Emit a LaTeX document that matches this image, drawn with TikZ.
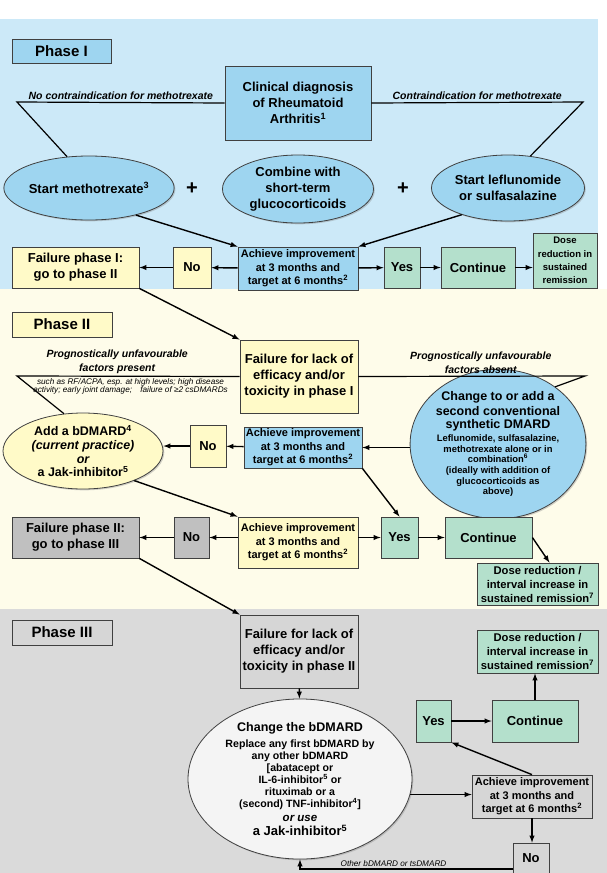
\documentclass[tikz,border=0pt]{standalone}
\usepackage{fontspec}
\setmainfont{Liberation Sans}
\usepackage{tikz}
\usetikzlibrary{positioning,shapes.geometric,arrows,shadows}
\definecolor{bgBlue}{RGB}{204,233,248}
\definecolor{bgYellow}{RGB}{254,252,234}
\definecolor{bgGrey}{RGB}{218,218,218}
\definecolor{boxBlue}{RGB}{158,213,240}
\definecolor{boxYellow}{RGB}{255,250,200}
\definecolor{boxGreen}{RGB}{180,224,204}
\definecolor{boxGreyDark}{RGB}{192,192,192}
\definecolor{boxGreyLight}{RGB}{214,214,214}
\definecolor{ovalWhite}{RGB}{244,244,244}

\begin{document}
\begin{tikzpicture}[
		x=1pt, y=-1pt,
		>=latex,
		every node/.style={align=center, font=\bfseries\fontsize{13}{16}\selectfont},
		box/.style={draw=black!75, line width=0.8pt, inner sep=1pt,
			drop shadow={shadow xshift=1.3pt, shadow yshift=-1.3pt, opacity=0.35}},
		oval/.style={ellipse, draw=black!75, line width=0.8pt, inner sep=0pt,
			drop shadow={shadow xshift=1.3pt, shadow yshift=-1.3pt, opacity=0.35}},
		flow/.style={->, line width=1.4pt},
		branch/.style={line width=1.2pt},
		phasetxt/.style={font=\bfseries\fontsize{15}{18}\selectfont},
		achtxt/.style={font=\bfseries\fontsize{11}{13.5}\selectfont},
		dosetxt/.style={font=\bfseries\fontsize{9.5}{13.2}\selectfont},
		remtxt/.style={font=\bfseries\fontsize{11.2}{14}\selectfont},
		lbltxt/.style={font=\bfseries\itshape\fontsize{10.5}{14}\selectfont, inner sep=2pt},
		notetxt/.style={font=\itshape\fontsize{8.2}{8.5}\selectfont, inner sep=1.5pt},
		plustxt/.style={font=\bfseries\fontsize{20}{20}\selectfont}
	]
	\fill[bgBlue] (0,19) rectangle (598,289);
	\fill[bgYellow] (0,289) rectangle (607,609);
	\fill[bgGrey] (0,609) rectangle (607,873);
	\useasboundingbox (0,0) rectangle (607,873);

	\begin{scope}
		\node[box, fill=boxBlue, minimum width=99pt, minimum height=24pt, phasetxt] (phaseI) at (61.5,51) {Phase I};
		\node[box, fill=boxBlue, minimum width=146pt, minimum height=74pt] (diag) at (298,103) {Clinical diagnosis\\of Rheumatoid\\Arthritis\textsuperscript{1}};
		\coordinate (mtxCorner) at (17,102);
		\coordinate (lefCorner) at (583,102);
		\node[oval, fill=boxBlue, minimum width=154pt, minimum height=64pt] (mtx) at (89,188) {Start methotrexate\textsuperscript{3}};
		\node[oval, fill=boxBlue, minimum width=151pt, minimum height=68pt] (gc) at (298,189) {Combine with\\short-term\\glucocorticoids};
		\node[oval, fill=boxBlue, minimum width=153pt, minimum height=66pt] (lef) at (508,188) {Start leflunomide\\or sulfasalazine};
		\node[plustxt] (plusA) at (192,189) {+};
		\node[plustxt] (plusB) at (403,189) {+};

		\node[box, fill=boxYellow, minimum width=127pt, minimum height=41pt] (failI) at (75.5,267.5) {Failure phase I:\\go to phase II};
		\node[box, fill=boxYellow, minimum width=38pt, minimum height=41pt] (noI) at (192,267.5) {No};
		\node[box, fill=boxBlue, minimum width=120pt, minimum height=43pt, achtxt] (achI) at (298,268.5) {Achieve improvement\\at 3 months and\\target at 6 months\textsuperscript{2}};
		\node[box, fill=boxGreen, minimum width=36pt, minimum height=41pt] (yesI) at (402,267.5) {Yes};
		\node[box, fill=boxGreen, minimum width=74pt, minimum height=41pt] (contI) at (478,267.5) {Continue};
		\node[box, fill=boxGreen, minimum width=64pt, minimum height=55pt, dosetxt] (doseI) at (565,260.5) {Dose\\reduction in\\sustained\\remission};

		\draw[branch] (diag.west) -- node[above, lbltxt] {No contraindication for methotrexate} (mtxCorner) -- (mtx.125);
		\draw[branch] (diag.east) -- node[above, lbltxt] {Contraindication for methotrexate} (lefCorner) -- (lef.55);
		\draw[flow] (mtx.-30) -- (achI.north west);
		\draw[flow] (lef.210) -- (achI.north east);
		\draw[flow] (achI) -- (noI);
		\draw[flow] (noI) -- (failI);
		\draw[flow] (achI) -- (yesI);
		\draw[flow] (yesI) -- (contI);
		\draw[flow] (contI) -- (contI -| doseI.west);
	\end{scope}

	\begin{scope}
		\node[box, fill=boxYellow, minimum width=100pt, minimum height=25pt, phasetxt] (phaseII) at (62,324.5) {Phase II};
		\node[box, fill=boxYellow, minimum width=118pt, minimum height=73pt] (lackI) at (299,376.5) {Failure for lack of\\efficacy and/or\\toxicity in phase I};
		\coordinate (presCorner) at (17,376);
		\coordinate (absCorner) at (585,376);
		\node[oval, fill=boxYellow, minimum width=160pt, minimum height=76pt, font=\bfseries\fontsize{12.5}{13.8}\selectfont] (bdmard) at (83,451) {Add a bDMARD\textsuperscript{4}\\{\itshape (current practice)}\\{\itshape or}\\a Jak-inhibitor\textsuperscript{5}};
		\node[oval, fill=boxBlue, minimum width=164pt, minimum height=118pt, font=\bfseries\fontsize{9.4}{10.7}\selectfont] (csd) at (498,444) {{\fontsize{12.5}{13}\selectfont Change to or add a}\\[2.5pt]{\fontsize{12.5}{13}\selectfont second conventional}\\[2.5pt]{\fontsize{12.5}{13}\selectfont synthetic DMARD}\\[2pt]Leflunomide, sulfasalazine,\\methotrexate alone or in\\combination\textsuperscript{6}\\(ideally with addition of\\glucocorticoids as\\above)};
		\node[box, fill=boxYellow, minimum width=36pt, minimum height=42pt] (noIIa) at (208,446) {No};
		\node[box, fill=boxBlue, minimum width=118pt, minimum height=41pt, achtxt] (achIIa) at (303,447.5) {Achieve improvement\\at 3 months and\\target at 6 months\textsuperscript{2}};

		\node[box, fill=boxGreyDark, minimum width=127pt, minimum height=41pt] (failII) at (75.5,537.5) {Failure phase II:\\go to phase III};
		\node[box, fill=boxGreyDark, minimum width=35pt, minimum height=41pt] (noIIb) at (191.5,537.5) {No};
		\node[box, fill=boxYellow, minimum width=120pt, minimum height=51pt, achtxt] (achIIb) at (298,542.5) {Achieve improvement\\at 3 months and\\target at 6 months\textsuperscript{2}};
		\node[box, fill=boxGreen, minimum width=37pt, minimum height=41pt] (yesII) at (399.5,537.5) {Yes};
		\node[box, fill=boxGreen, minimum width=87pt, minimum height=41pt] (contII) at (488.5,537.5) {Continue};
		\node[box, fill=boxGreen, minimum width=121pt, minimum height=42pt, remtxt] (doseII) at (537.5,584) {Dose reduction /\\interval increase in\\sustained remission\textsuperscript{7}};

		\draw[flow] (failI.south east) -- (lackI.north west);
		\draw[branch] (lackI.west) -- node[pos=0.55, above, lbltxt] {Prognostically unfavourable\\factors present} node[pos=0.49, below, notetxt] {such as RF/ACPA, esp. at high levels; high disease\\activity; early joint damage;\quad failure of ≥2 csDMARDs} (presCorner) -- (bdmard.117);
		\draw[branch] (lackI.east) -- node[pos=0.54, above, lbltxt] {Prognostically unfavourable\\factors absent} (absCorner) -- (csd.45);
		\draw[flow] (csd.west |- achIIa) -- (achIIa.east);
		\draw[flow] (achIIa) -- (noIIa);
		\draw[flow] (noIIa.west) -- (noIIa.west -| bdmard.east);
		\draw[flow] (achIIa.south east) -- (yesII.north);
		\draw[flow] (bdmard.-30) -- (achIIb.north west);
		\draw[flow] (achIIb.west |- noIIb) -- (noIIb);
		\draw[flow] (noIIb) -- (failII);
		\draw[flow] (achIIb.east |- yesII) -- (yesII);
		\draw[flow] (yesII) -- (contII);
		\draw[flow] (contII.east) -- ([xshift=12pt]doseII.north);
	\end{scope}

	\begin{scope}
		\node[box, fill=boxGreyLight, minimum width=100pt, minimum height=25pt, phasetxt] (phaseIII) at (62,632.5) {Phase III};
		\node[box, fill=boxGreyLight, minimum width=118pt, minimum height=73pt] (lackII) at (299,651.5) {Failure for lack of\\efficacy and/or\\toxicity in phase II};
		\node[box, fill=boxGreen, minimum width=121pt, minimum height=43pt, remtxt] (doseIII) at (537.5,651.5) {Dose reduction /\\interval increase in\\sustained remission\textsuperscript{7}};
		\node[box, fill=boxGreen, minimum width=86pt, minimum height=42pt] (contIII) at (535,721) {Continue};
		\node[box, fill=boxGreen, minimum width=35pt, minimum height=42pt] (yesIII) at (433.5,721) {Yes};
		\node[oval, fill=ovalWhite, minimum width=224pt, minimum height=138pt, font=\bfseries\fontsize{10.6}{12}\selectfont] (swap) at (300,779) {{\fontsize{12.5}{13}\selectfont Change the bDMARD}\\[4pt]Replace any first bDMARD by\\any other bDMARD\\{}[abatacept or\\IL-6-inhibitor\textsuperscript{5} or\\rituximab or a\\(second) TNF-inhibitor\textsuperscript{4}]\\[2pt]{\itshape\fontsize{11.5}{13}\selectfont or use}\\[2pt]{\fontsize{13}{14}\selectfont a Jak-inhibitor\textsuperscript{5}}};
		\node[box, fill=boxGreyLight, minimum width=120pt, minimum height=43pt, achtxt] (achIII) at (532,796.5) {Achieve improvement\\at 3 months and\\target at 6 months\textsuperscript{2}};
		\node[box, fill=boxGreyLight, minimum width=36pt, minimum height=30pt] (noIII) at (531,858) {No};

		\draw[flow] (failII.south east) -- (lackII.north west);
		\draw[flow] (lackII) -- (swap);
		\draw[flow] (swap.-8) -- (swap.-8 -| achIII.west);
		\draw[flow] (achIII.north) -- (yesIII.south east);
		\draw[flow] (yesIII) -- (contIII);
		\draw[flow] (contIII.north) -- (contIII.north |- doseIII.south);
		\draw[flow] (achIII.south) -- (achIII.south |- noIII.north);
		\draw[flow] ([yshift=-11pt]noIII.west) -| node[pos=0.28, above, notetxt] {Other bDMARD or tsDMARD} (swap.south);
	\end{scope}
\end{tikzpicture}
\end{document}
